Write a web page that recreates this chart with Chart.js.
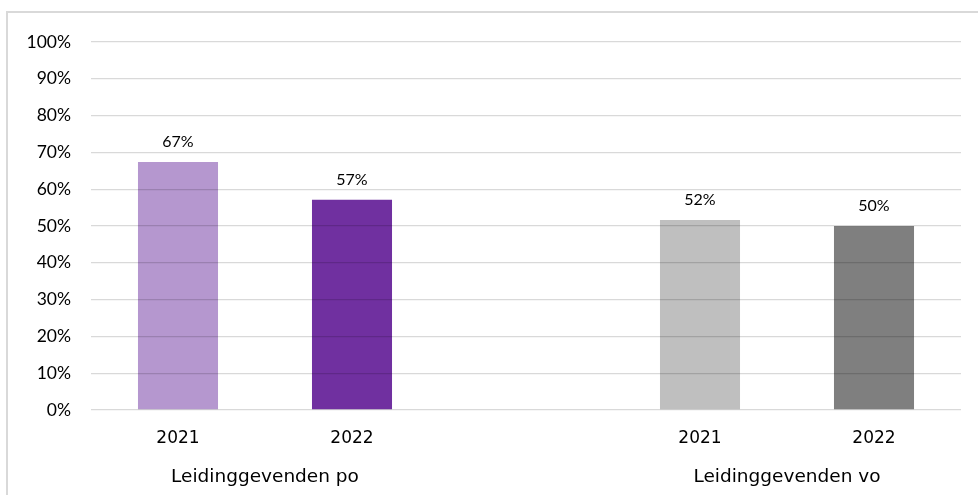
<!DOCTYPE html>
<html>
<head>
<meta charset="utf-8">
<script src="https://cdn.jsdelivr.net/npm/chart.js@4.4.1/dist/chart.umd.min.js"></script>
<style>
  html, body { margin: 0; padding: 0; background: #fff; overflow: hidden; }
  .frame {
    position: absolute; left: 6px; top: 11px; width: 990px; height: 500px;
    border-left: 2px solid #d9d9d9; border-top: 2px solid #d9d9d9;
  }
  .wrap { position: absolute; left: 0; top: 0; width: 978px; height: 495px; }
</style>
</head>
<body>
<div class="frame"></div>
<div class="wrap"><canvas id="barChart" width="978" height="495"></canvas></div>
<script>
const years = ['2021', '2022', '', '2021', '2022'];
const values = [67.4, 57.1, null, 51.6, 50.0];
const barColors = ['#B597CF', '#7030A0', '#ffffff', '#BFBFBF', '#7F7F7F'];
const groups = ['Leidinggevenden po', 'Leidinggevenden vo'];
// first and last category index of each group
const groupSpans = [[0, 1], [3, 4]];
const yTicks = [0, 10, 20, 30, 40, 50, 60, 70, 80, 90, 100];

// draws the percentage above each bar
const valueLabels = {
  id: 'valueLabels',
  afterDatasetsDraw(chart) {
    const ctx = chart.ctx;
    const meta = chart.getDatasetMeta(0);
    ctx.save();
    ctx.font = '16px Lato';
    ctx.fillStyle = '#000';
    ctx.textAlign = 'center';
    ctx.textBaseline = 'alphabetic';
    meta.data.forEach((bar, i) => {
      if (values[i] === null) return;
      ctx.fillText(Math.round(values[i]) + '%', bar.x, bar.y - 15);
    });
    ctx.restore();
  }
};

// second row of x labels, centred under each group of years
const groupLabels = {
  id: 'groupLabels',
  afterDraw(chart) {
    const ctx = chart.ctx;
    const x = chart.scales.x;
    ctx.save();
    ctx.font = '18.5px "DejaVu Sans"';
    ctx.fillStyle = '#000';
    ctx.textAlign = 'center';
    ctx.textBaseline = 'middle';
    groupSpans.forEach((span, i) => {
      const cx = (x.getPixelForValue(span[0]) + x.getPixelForValue(span[1])) / 2;
      ctx.fillText(groups[i], cx, x.top + 67);
    });
    ctx.restore();
  }
};

new Chart("barChart", {
  type: "bar",
  data: {
    labels: years,
    datasets: [{
      data: values,
      backgroundColor: barColors,
      categoryPercentage: 1,
      barPercentage: 0.46
    }]
  },
  options: {
    responsive: false,
    animation: false,
    events: [],
    layout: { padding: { top: 42, right: 17, left: 0, bottom: 0 } },
    plugins: {
      legend: { display: false },
      title: { display: false },
      tooltip: { enabled: false }
    },
    scales: {
      y: {
        min: 0,
        max: 100,
        afterBuildTicks: (scale) => { scale.ticks = yTicks.map(v => ({ value: v })); },
        afterFit: (scale) => { scale.width = 91; },
        border: { display: false },
        grid: { color: 'rgba(0,0,0,0.15)', lineWidth: 1.3, drawTicks: false, z: 1 },
        ticks: {
          padding: 20,
          color: '#000',
          font: { family: 'Lato', size: 17.5 },
          callback: (v) => v + '%'
        }
      },
      x: {
        position: 'bottom',
        afterFit: (scale) => { scale.height = 85; },
        border: { display: false },
        grid: { display: false, drawTicks: false },
        ticks: {
          padding: 18,
          color: '#000',
          maxRotation: 0,
          font: { family: 'DejaVu Sans', size: 17 }
        }
      }
    }
  },
  plugins: [valueLabels, groupLabels]
});
</script>
</body>
</html>
